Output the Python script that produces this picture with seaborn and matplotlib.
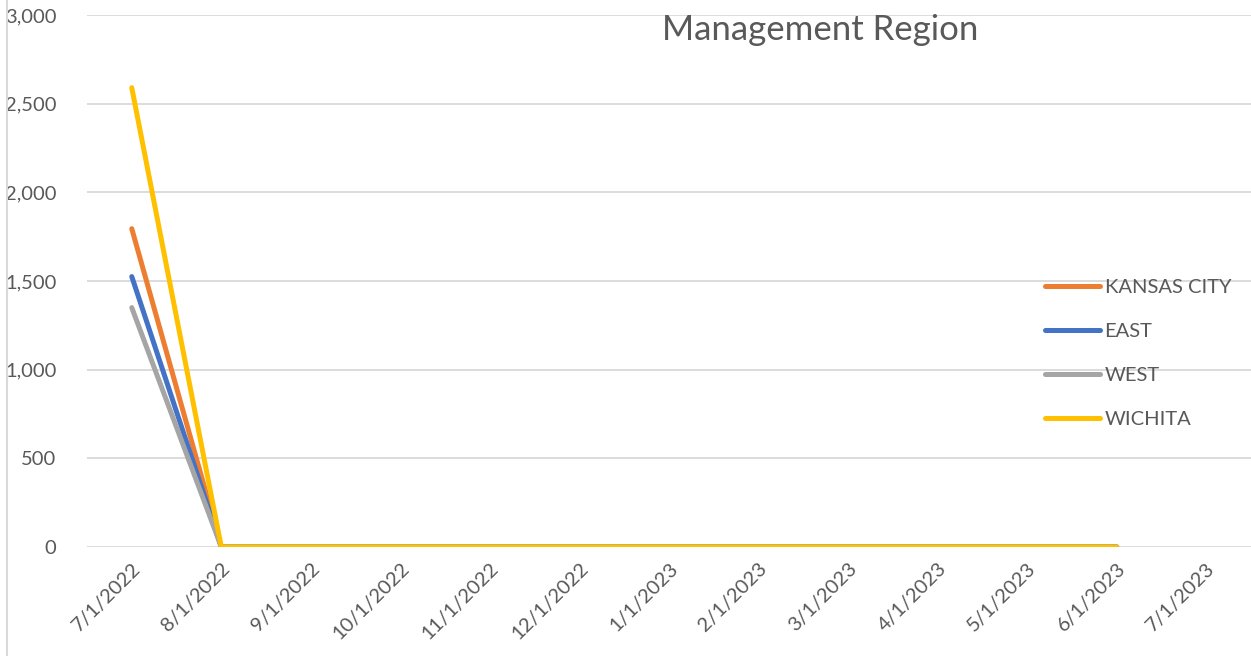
import matplotlib
matplotlib.use("Agg")
import matplotlib.pyplot as plt
import seaborn as sns
import pandas as pd
from matplotlib.lines import Line2D

dates = ["7/1/2022", "8/1/2022", "9/1/2022", "10/1/2022", "11/1/2022", "12/1/2022",
         "1/1/2023", "2/1/2023", "3/1/2023", "4/1/2023", "5/1/2023", "6/1/2023", "7/1/2023"]
kansas_city = [1795, 0, 0, 0, 0, 0, 0, 0, 0, 0, 0, 0]
east = [1525, 0, 0, 0, 0, 0, 0, 0, 0, 0, 0, 0]
west = [1350, 0, 0, 0, 0, 0, 0, 0, 0, 0, 0, 0]
wichita = [2590, 0, 0, 0, 0, 0, 0, 0, 0, 0, 0, 0]
regions = ["KANSAS CITY", "EAST", "WEST", "WICHITA"]
colors = ["#ED7D31", "#4472C4", "#A5A5A5", "#FFC000"]

rows = []
for name, vals in zip(regions, [kansas_city, east, west, wichita]):
    for i, v in enumerate(vals):
        rows.append({"idx": i, "value": v, "region": name})
df = pd.DataFrame(rows)

sns.set_theme(style="white")
plt.rcParams["font.family"] = ["Lato", "DejaVu Sans"]
txt = "#595959"

fig = plt.figure(figsize=(12.51, 6.56), dpi=100)
ax = fig.add_axes([87 / 1251, 1 - 547 / 656, 1 - 87 / 1251, (547 - 15) / 656])

sns.lineplot(data=df, x="idx", y="value", hue="region", hue_order=regions,
             palette=colors, linewidth=3.6, ax=ax, legend=False,
             solid_capstyle="round", solid_joinstyle="miter")

ax.set_xlim(-0.5, len(dates) - 0.5)
ax.set_ylim(0, 3000)
ax.set_yticks(range(0, 3001, 500))
ax.set_yticklabels([f"{v:,}" for v in range(0, 3001, 500)], color=txt, fontsize=14.5)
ax.set_xticks(range(len(dates)))
ax.set_xticklabels(dates, rotation=45, ha="right", rotation_mode="anchor",
                   color=txt, fontsize=14.5)
ax.tick_params(axis="y", length=0, pad=22)
ax.tick_params(axis="x", length=0, pad=9)
ax.grid(axis="y", color="#D9D9D9", linewidth=1.3)
ax.set_axisbelow(True)
for s in ax.spines.values():
    s.set_visible(False)
ax.set_xlabel("")
ax.set_ylabel("")

handles = [Line2D([0], [0], color=c, linewidth=3.6, solid_capstyle="round") for c in colors]
leg = fig.legend(handles, regions, loc="upper left", bbox_to_anchor=(1027 / 1251, 1 - 261 / 656),
                 frameon=False, fontsize=14.5, handlelength=2.7, handletextpad=0.25,
                 labelspacing=1.33)
for t in leg.get_texts():
    t.set_color(txt)

fig.text(820 / 1251, 1 - 30 / 656, "Management Region", ha="center", va="center",
         fontsize=25, color=txt)

fig.add_artist(Line2D([7 / 1251, 7 / 1251], [0, 1], color="#D9D9D9", linewidth=1.5,
                      transform=fig.transFigure))

fig.savefig("out.png", dpi=100)
